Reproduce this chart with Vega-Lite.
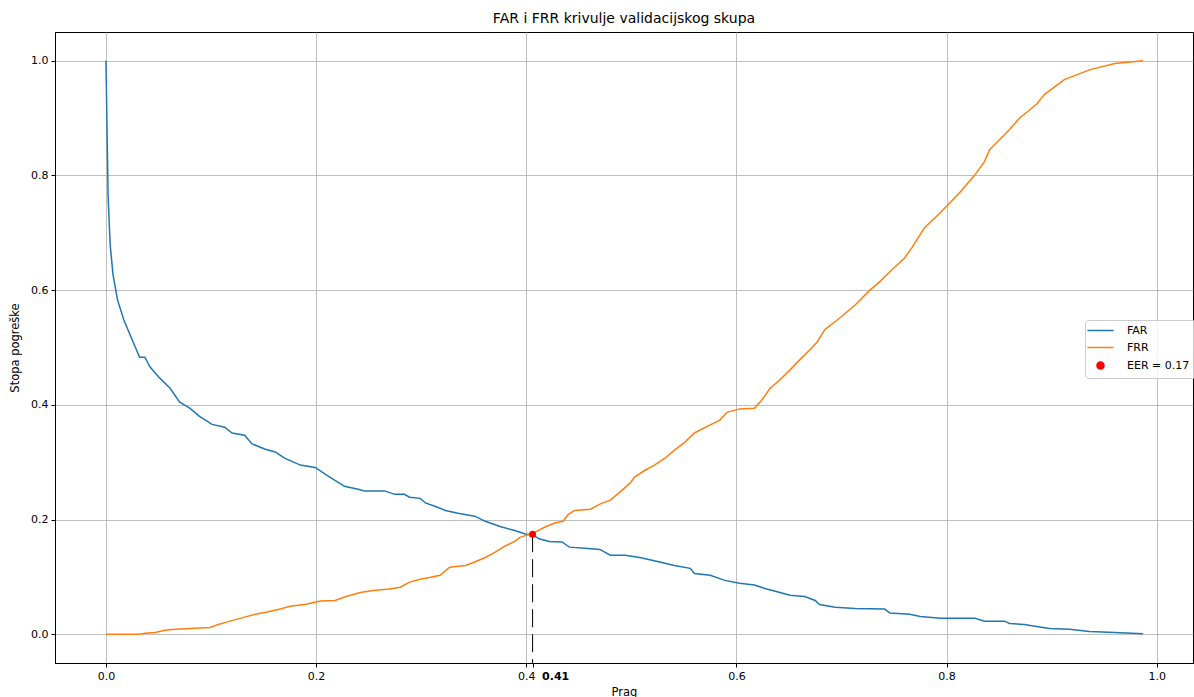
{
  "$schema": "https://vega.github.io/schema/vega-lite/v6.json",
  "width": 1138,
  "height": 631,
  "autosize": {"type": "none"},
  "padding": {"left": 55, "top": 32, "right": 1, "bottom": 34},
  "background": "white",
  "config": {
    "font": "DejaVu Sans",
    "view": {"stroke": "black", "strokeWidth": 1},
    "axis": {
      "labelFont": "DejaVu Sans",
      "titleFont": "DejaVu Sans",
      "labelFontSize": 11,
      "titleFontSize": 11.5,
      "titleFontWeight": "normal",
      "labelColor": "black",
      "titleColor": "black",
      "domainColor": "black",
      "tickColor": "black",
      "tickSize": 4,
      "labelPadding": 3,
      "gridColor": "#b0b0b0",
      "gridWidth": 0.8
    }
  },
  "title": {
    "text": "FAR i FRR krivulje validacijskog skupa",
    "font": "DejaVu Sans",
    "fontSize": 14,
    "fontWeight": "normal",
    "color": "black",
    "anchor": "middle",
    "offset": 6
  },
  "datasets": {
    "curves": [
      {"t": 0.0, "r": 1.0, "s": "FAR"},
      {"t": 0.002, "r": 0.766, "s": "FAR"},
      {"t": 0.004, "r": 0.679, "s": "FAR"},
      {"t": 0.0067, "r": 0.627, "s": "FAR"},
      {"t": 0.011, "r": 0.583, "s": "FAR"},
      {"t": 0.017, "r": 0.548, "s": "FAR"},
      {"t": 0.032, "r": 0.483, "s": "FAR"},
      {"t": 0.037, "r": 0.483, "s": "FAR"},
      {"t": 0.042, "r": 0.466, "s": "FAR"},
      {"t": 0.051, "r": 0.447, "s": "FAR"},
      {"t": 0.061, "r": 0.429, "s": "FAR"},
      {"t": 0.070, "r": 0.405, "s": "FAR"},
      {"t": 0.080, "r": 0.394, "s": "FAR"},
      {"t": 0.089, "r": 0.380, "s": "FAR"},
      {"t": 0.101, "r": 0.366, "s": "FAR"},
      {"t": 0.113, "r": 0.361, "s": "FAR"},
      {"t": 0.120, "r": 0.351, "s": "FAR"},
      {"t": 0.132, "r": 0.347, "s": "FAR"},
      {"t": 0.139, "r": 0.332, "s": "FAR"},
      {"t": 0.151, "r": 0.323, "s": "FAR"},
      {"t": 0.161, "r": 0.318, "s": "FAR"},
      {"t": 0.170, "r": 0.307, "s": "FAR"},
      {"t": 0.185, "r": 0.295, "s": "FAR"},
      {"t": 0.199, "r": 0.291, "s": "FAR"},
      {"t": 0.213, "r": 0.274, "s": "FAR"},
      {"t": 0.227, "r": 0.258, "s": "FAR"},
      {"t": 0.240, "r": 0.253, "s": "FAR"},
      {"t": 0.246, "r": 0.250, "s": "FAR"},
      {"t": 0.265, "r": 0.250, "s": "FAR"},
      {"t": 0.275, "r": 0.244, "s": "FAR"},
      {"t": 0.284, "r": 0.244, "s": "FAR"},
      {"t": 0.289, "r": 0.239, "s": "FAR"},
      {"t": 0.299, "r": 0.237, "s": "FAR"},
      {"t": 0.304, "r": 0.229, "s": "FAR"},
      {"t": 0.315, "r": 0.222, "s": "FAR"},
      {"t": 0.323, "r": 0.216, "s": "FAR"},
      {"t": 0.335, "r": 0.211, "s": "FAR"},
      {"t": 0.351, "r": 0.206, "s": "FAR"},
      {"t": 0.361, "r": 0.197, "s": "FAR"},
      {"t": 0.375, "r": 0.188, "s": "FAR"},
      {"t": 0.389, "r": 0.181, "s": "FAR"},
      {"t": 0.399, "r": 0.175, "s": "FAR"},
      {"t": 0.406, "r": 0.173, "s": "FAR"},
      {"t": 0.413, "r": 0.166, "s": "FAR"},
      {"t": 0.422, "r": 0.162, "s": "FAR"},
      {"t": 0.434, "r": 0.161, "s": "FAR"},
      {"t": 0.441, "r": 0.152, "s": "FAR"},
      {"t": 0.456, "r": 0.150, "s": "FAR"},
      {"t": 0.470, "r": 0.148, "s": "FAR"},
      {"t": 0.480, "r": 0.138, "s": "FAR"},
      {"t": 0.494, "r": 0.138, "s": "FAR"},
      {"t": 0.508, "r": 0.134, "s": "FAR"},
      {"t": 0.527, "r": 0.126, "s": "FAR"},
      {"t": 0.541, "r": 0.120, "s": "FAR"},
      {"t": 0.556, "r": 0.115, "s": "FAR"},
      {"t": 0.560, "r": 0.106, "s": "FAR"},
      {"t": 0.575, "r": 0.103, "s": "FAR"},
      {"t": 0.589, "r": 0.094, "s": "FAR"},
      {"t": 0.603, "r": 0.089, "s": "FAR"},
      {"t": 0.617, "r": 0.086, "s": "FAR"},
      {"t": 0.627, "r": 0.080, "s": "FAR"},
      {"t": 0.637, "r": 0.075, "s": "FAR"},
      {"t": 0.651, "r": 0.068, "s": "FAR"},
      {"t": 0.665, "r": 0.066, "s": "FAR"},
      {"t": 0.675, "r": 0.059, "s": "FAR"},
      {"t": 0.679, "r": 0.052, "s": "FAR"},
      {"t": 0.694, "r": 0.047, "s": "FAR"},
      {"t": 0.713, "r": 0.045, "s": "FAR"},
      {"t": 0.741, "r": 0.044, "s": "FAR"},
      {"t": 0.746, "r": 0.037, "s": "FAR"},
      {"t": 0.765, "r": 0.035, "s": "FAR"},
      {"t": 0.775, "r": 0.031, "s": "FAR"},
      {"t": 0.794, "r": 0.028, "s": "FAR"},
      {"t": 0.827, "r": 0.028, "s": "FAR"},
      {"t": 0.836, "r": 0.023, "s": "FAR"},
      {"t": 0.855, "r": 0.023, "s": "FAR"},
      {"t": 0.860, "r": 0.019, "s": "FAR"},
      {"t": 0.874, "r": 0.017, "s": "FAR"},
      {"t": 0.884, "r": 0.014, "s": "FAR"},
      {"t": 0.898, "r": 0.010, "s": "FAR"},
      {"t": 0.917, "r": 0.009, "s": "FAR"},
      {"t": 0.936, "r": 0.005, "s": "FAR"},
      {"t": 0.960, "r": 0.003, "s": "FAR"},
      {"t": 0.987, "r": 0.001, "s": "FAR"},
      {"t": 0.0, "r": 0.0, "s": "FRR"},
      {"t": 0.032, "r": 0.0, "s": "FRR"},
      {"t": 0.037, "r": 0.002, "s": "FRR"},
      {"t": 0.047, "r": 0.003, "s": "FRR"},
      {"t": 0.056, "r": 0.007, "s": "FRR"},
      {"t": 0.066, "r": 0.009, "s": "FRR"},
      {"t": 0.080, "r": 0.010, "s": "FRR"},
      {"t": 0.099, "r": 0.012, "s": "FRR"},
      {"t": 0.107, "r": 0.017, "s": "FRR"},
      {"t": 0.118, "r": 0.023, "s": "FRR"},
      {"t": 0.132, "r": 0.030, "s": "FRR"},
      {"t": 0.142, "r": 0.035, "s": "FRR"},
      {"t": 0.151, "r": 0.038, "s": "FRR"},
      {"t": 0.166, "r": 0.044, "s": "FRR"},
      {"t": 0.175, "r": 0.049, "s": "FRR"},
      {"t": 0.189, "r": 0.052, "s": "FRR"},
      {"t": 0.204, "r": 0.058, "s": "FRR"},
      {"t": 0.218, "r": 0.059, "s": "FRR"},
      {"t": 0.227, "r": 0.065, "s": "FRR"},
      {"t": 0.242, "r": 0.073, "s": "FRR"},
      {"t": 0.256, "r": 0.077, "s": "FRR"},
      {"t": 0.270, "r": 0.079, "s": "FRR"},
      {"t": 0.280, "r": 0.082, "s": "FRR"},
      {"t": 0.289, "r": 0.091, "s": "FRR"},
      {"t": 0.299, "r": 0.096, "s": "FRR"},
      {"t": 0.308, "r": 0.099, "s": "FRR"},
      {"t": 0.318, "r": 0.103, "s": "FRR"},
      {"t": 0.327, "r": 0.117, "s": "FRR"},
      {"t": 0.342, "r": 0.120, "s": "FRR"},
      {"t": 0.351, "r": 0.126, "s": "FRR"},
      {"t": 0.361, "r": 0.134, "s": "FRR"},
      {"t": 0.370, "r": 0.143, "s": "FRR"},
      {"t": 0.380, "r": 0.154, "s": "FRR"},
      {"t": 0.389, "r": 0.162, "s": "FRR"},
      {"t": 0.394, "r": 0.169, "s": "FRR"},
      {"t": 0.406, "r": 0.176, "s": "FRR"},
      {"t": 0.418, "r": 0.187, "s": "FRR"},
      {"t": 0.427, "r": 0.194, "s": "FRR"},
      {"t": 0.435, "r": 0.197, "s": "FRR"},
      {"t": 0.440, "r": 0.209, "s": "FRR"},
      {"t": 0.446, "r": 0.216, "s": "FRR"},
      {"t": 0.461, "r": 0.218, "s": "FRR"},
      {"t": 0.470, "r": 0.227, "s": "FRR"},
      {"t": 0.480, "r": 0.234, "s": "FRR"},
      {"t": 0.489, "r": 0.248, "s": "FRR"},
      {"t": 0.499, "r": 0.264, "s": "FRR"},
      {"t": 0.503, "r": 0.274, "s": "FRR"},
      {"t": 0.513, "r": 0.286, "s": "FRR"},
      {"t": 0.522, "r": 0.295, "s": "FRR"},
      {"t": 0.532, "r": 0.307, "s": "FRR"},
      {"t": 0.541, "r": 0.321, "s": "FRR"},
      {"t": 0.551, "r": 0.335, "s": "FRR"},
      {"t": 0.560, "r": 0.351, "s": "FRR"},
      {"t": 0.575, "r": 0.365, "s": "FRR"},
      {"t": 0.584, "r": 0.373, "s": "FRR"},
      {"t": 0.591, "r": 0.387, "s": "FRR"},
      {"t": 0.603, "r": 0.393, "s": "FRR"},
      {"t": 0.617, "r": 0.394, "s": "FRR"},
      {"t": 0.624, "r": 0.408, "s": "FRR"},
      {"t": 0.632, "r": 0.429, "s": "FRR"},
      {"t": 0.641, "r": 0.443, "s": "FRR"},
      {"t": 0.651, "r": 0.461, "s": "FRR"},
      {"t": 0.660, "r": 0.478, "s": "FRR"},
      {"t": 0.670, "r": 0.496, "s": "FRR"},
      {"t": 0.677, "r": 0.510, "s": "FRR"},
      {"t": 0.684, "r": 0.531, "s": "FRR"},
      {"t": 0.698, "r": 0.551, "s": "FRR"},
      {"t": 0.713, "r": 0.574, "s": "FRR"},
      {"t": 0.727, "r": 0.600, "s": "FRR"},
      {"t": 0.736, "r": 0.614, "s": "FRR"},
      {"t": 0.746, "r": 0.632, "s": "FRR"},
      {"t": 0.760, "r": 0.656, "s": "FRR"},
      {"t": 0.767, "r": 0.674, "s": "FRR"},
      {"t": 0.779, "r": 0.709, "s": "FRR"},
      {"t": 0.794, "r": 0.735, "s": "FRR"},
      {"t": 0.813, "r": 0.771, "s": "FRR"},
      {"t": 0.827, "r": 0.801, "s": "FRR"},
      {"t": 0.836, "r": 0.824, "s": "FRR"},
      {"t": 0.841, "r": 0.845, "s": "FRR"},
      {"t": 0.860, "r": 0.880, "s": "FRR"},
      {"t": 0.870, "r": 0.901, "s": "FRR"},
      {"t": 0.879, "r": 0.914, "s": "FRR"},
      {"t": 0.886, "r": 0.925, "s": "FRR"},
      {"t": 0.893, "r": 0.941, "s": "FRR"},
      {"t": 0.912, "r": 0.967, "s": "FRR"},
      {"t": 0.936, "r": 0.984, "s": "FRR"},
      {"t": 0.960, "r": 0.995, "s": "FRR"},
      {"t": 0.987, "r": 1.0, "s": "FRR"}
    ],
    "eer": [
      {"t": 0.406, "r": 0.1745, "s": "EER = 0.17"}
    ]
  },
  "layer": [
    {
      "data": {"name": "curves"},
      "mark": {"type": "line", "strokeWidth": 1.5, "clip": true},
      "encoding": {
        "x": {
          "field": "t",
          "type": "quantitative",
          "scale": {"domain": [-0.0485, 1.0345], "nice": false, "zero": false},
          "axis": {
            "title": "Prag",
            "titlePadding": 5,
            "values": [0, 0.2, 0.4, 0.406, 0.6, 0.8, 1.0],
            "labelExpr": "datum.value == 0.406 ? '0.41' : format(datum.value, '.1f')",
            "labelOverlap": false,
            "labelFlush": false,
            "labelFontWeight": {"condition": {"test": "datum.value == 0.406", "value": "bold"}, "value": "normal"},
            "labelAlign": {"condition": {"test": "datum.value == 0.406", "value": "left"}, "value": "center"},
            "labelOffset": {"condition": {"test": "datum.value == 0.406", "value": 9}, "value": 0},
            "gridOpacity": {"condition": {"test": "datum.value == 0.406", "value": 0}, "value": 1}
          }
        },
        "y": {
          "field": "r",
          "type": "quantitative",
          "scale": {"domain": [-0.05, 1.05], "nice": false, "zero": false},
          "axis": {
            "title": "Stopa pogreške",
            "titlePadding": 10,
            "values": [0, 0.2, 0.4, 0.6, 0.8, 1.0],
            "format": ".1f",
            "labelFlush": false
          }
        },
        "color": {
          "field": "s",
          "type": "nominal",
          "scale": {"domain": ["FAR", "FRR", "EER = 0.17"], "range": ["#1f77b4", "#ff7f0e", "red"]},
          "legend": {
            "title": null,
            "orient": "none",
            "legendX": 1030,
            "legendY": 288,
            "fillColor": "rgba(255,255,255,0.8)",
            "strokeColor": "#cccccc",
            "cornerRadius": 3,
            "padding": 5,
            "labelFont": "DejaVu Sans",
            "labelFontSize": 11,
            "labelColor": "black",
            "symbolSize": 50,
            "symbolStrokeWidth": 1.5,
            "symbolOffset": 5,
            "rowPadding": 5,
            "labelOffset": 21,
            "encode": {
              "symbols": {
                "update": {
                  "shape": {"signal": "datum.value === 'EER = 0.17' ? 'circle' : 'M-3.7,0H3.7'"},
                  "fill": {"signal": "datum.value === 'EER = 0.17' ? 'red' : 'transparent'"}
                }
              }
            }
          }
        },
        "detail": {"field": "s"}
      }
    },
    {
      "data": {"name": "eer"},
      "mark": {"type": "rule", "color": "black", "strokeWidth": 1, "strokeDash": [18, 7]},
      "encoding": {
        "x": {"field": "t", "type": "quantitative"},
        "y": {"field": "r", "type": "quantitative"},
        "y2": {"datum": -0.05}
      }
    },
    {
      "data": {"name": "eer"},
      "mark": {"type": "point", "filled": true, "size": 50, "opacity": 1},
      "encoding": {
        "x": {"field": "t", "type": "quantitative"},
        "y": {"field": "r", "type": "quantitative"},
        "color": {"field": "s", "type": "nominal"}
      }
    }
  ]
}
